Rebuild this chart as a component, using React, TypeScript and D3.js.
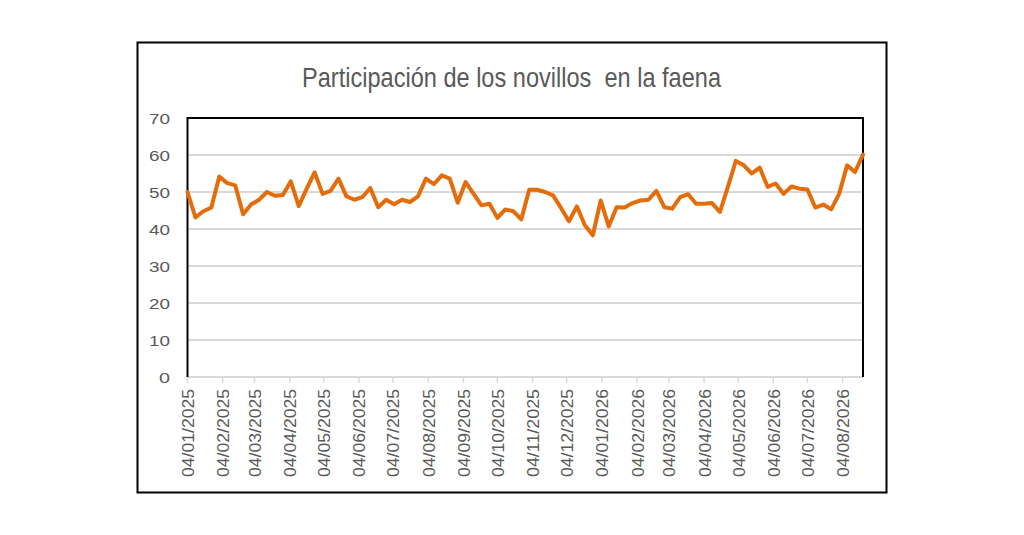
import { useEffect, useRef } from 'react';
import * as d3 from 'd3';

// weekly series, first week starts 04/01/2025
const START_DATE = new Date(2025, 0, 4);
const VALUES = [
  50.0, 43.1, 44.8, 45.8, 54.2, 52.4, 51.8, 44.0, 46.6, 47.9,
  50.0, 49.0, 49.2, 52.9, 46.2, 50.9, 55.3, 49.5, 50.3, 53.6,
  48.8, 47.9, 48.6, 51.1, 45.9, 47.9, 46.7, 47.9, 47.3, 48.8,
  53.6, 52.1, 54.5, 53.6, 47.1, 52.7, 49.5, 46.4, 46.8, 43.0,
  45.3, 44.8, 42.6, 50.6, 50.6, 50.0, 49.1, 45.7, 42.1, 46.1,
  41.0, 38.3, 47.7, 40.7, 45.9, 45.8, 47.0, 47.7, 47.9, 50.3,
  45.9, 45.5, 48.6, 49.4, 46.8, 46.8, 47.0, 44.6, 51.4, 58.4,
  57.2, 55.0, 56.6, 51.4, 52.3, 49.5, 51.5, 50.9, 50.7, 45.8,
  46.6, 45.3, 49.5, 57.2, 55.4, 60.1,
];
const Y_TICKS = [0, 10, 20, 30, 40, 50, 60, 70];
const MONTH_COUNT = 20; // 04/01/2025 .. 04/08/2026
const TITLE = 'Participación de los novillos  en la faena';

export default function App() {
  const svgRef = useRef<SVGSVGElement>(null);

  useEffect(() => {
    if (!svgRef.current) return;
    const svg = d3.select(svgRef.current);
    svg.selectAll('*').remove();

    const width = 1024;
    const height = 535;
    const plot = { left: 187.5, right: 863, top: 118, bottom: 377 };
    const font = '"Liberation Sans", Arial, sans-serif';
    const grey = '#595959';

    const data = VALUES.map((v, i) => ({ date: d3.timeDay.offset(START_DATE, i * 7), value: v }));
    const monthTicks = d3.range(MONTH_COUNT).map((i) => d3.timeMonth.offset(START_DATE, i));

    const x = d3.scaleTime()
      .domain([data[0].date, data[data.length - 1].date])
      .range([plot.left, plot.right]);
    const y = d3.scaleLinear().domain([0, 70]).range([plot.bottom, plot.top]);

    svg.append('rect')
      .attr('width', width)
      .attr('height', height)
      .attr('fill', '#fff');

    // outer chart frame
    svg.append('rect')
      .attr('x', 137.5)
      .attr('y', 42.5)
      .attr('width', 749)
      .attr('height', 450)
      .attr('fill', '#fff')
      .attr('stroke', '#000')
      .attr('stroke-width', 2);

    svg.append('text')
      .attr('x', 302)
      .attr('y', 87)
      .attr('fill', grey)
      .attr('font-family', font)
      .attr('font-size', 28)
      .attr('textLength', 419)
      .attr('lengthAdjust', 'spacingAndGlyphs')
      .style('white-space', 'pre')
      .text(TITLE);

    // gridlines
    svg.append('g')
      .selectAll('line')
      .data(Y_TICKS.filter((t) => t > 0 && t < 70))
      .join('line')
      .attr('x1', plot.left)
      .attr('x2', plot.right)
      .attr('y1', (d) => y(d))
      .attr('y2', (d) => y(d))
      .attr('stroke', '#d9d9d9')
      .attr('stroke-width', 2);

    // y labels
    svg.append('g')
      .selectAll('text')
      .data(Y_TICKS)
      .join('text')
      .attr('x', 170)
      .attr('y', (d) => y(d) + 5.5)
      .attr('text-anchor', 'end')
      .attr('fill', grey)
      .attr('font-family', font)
      .attr('font-size', 15)
      .attr('textLength', (d) => (String(d).length === 1 ? 11 : 21))
      .attr('lengthAdjust', 'spacingAndGlyphs')
      .text((d) => d);

    // x axis line + ticks
    svg.append('line')
      .attr('x1', plot.left)
      .attr('x2', plot.right)
      .attr('y1', plot.bottom)
      .attr('y2', plot.bottom)
      .attr('stroke', '#d9d9d9')
      .attr('stroke-width', 2);

    svg.append('g')
      .selectAll('line')
      .data(monthTicks)
      .join('line')
      .attr('x1', (d) => x(d))
      .attr('x2', (d) => x(d))
      .attr('y1', plot.bottom)
      .attr('y2', plot.bottom + 6)
      .attr('stroke', '#d9d9d9')
      .attr('stroke-width', 1.5);

    const fmt = d3.timeFormat('%d/%m/%Y');
    svg.append('g')
      .selectAll('text')
      .data(monthTicks)
      .join('text')
      .attr('transform', (d) => `translate(${x(d) + 6.5},389) rotate(-90)`)
      .attr('text-anchor', 'end')
      .attr('fill', grey)
      .attr('font-family', font)
      .attr('font-size', 16)
      .attr('textLength', 88)
      .attr('lengthAdjust', 'spacingAndGlyphs')
      .text((d) => fmt(d));

    // plot border (left, top, right)
    svg.append('path')
      .attr('d', `M${plot.left},${plot.bottom} V${plot.top} H${plot.right} V${plot.bottom}`)
      .attr('fill', 'none')
      .attr('stroke', '#000')
      .attr('stroke-width', 2);

    const line = d3.line<{ date: Date; value: number }>()
      .x((d) => x(d.date))
      .y((d) => y(d.value));

    svg.append('path')
      .datum(data)
      .attr('d', line)
      .attr('fill', 'none')
      .attr('stroke', '#E46C0A')
      .attr('stroke-width', 4)
      .attr('stroke-linejoin', 'round')
      .attr('stroke-linecap', 'round');
  }, []);

  return (
    <svg
      ref={svgRef}
      width={1024}
      height={535}
      style={{ position: 'absolute', left: 0, top: 0 }}
    />
  );
}
